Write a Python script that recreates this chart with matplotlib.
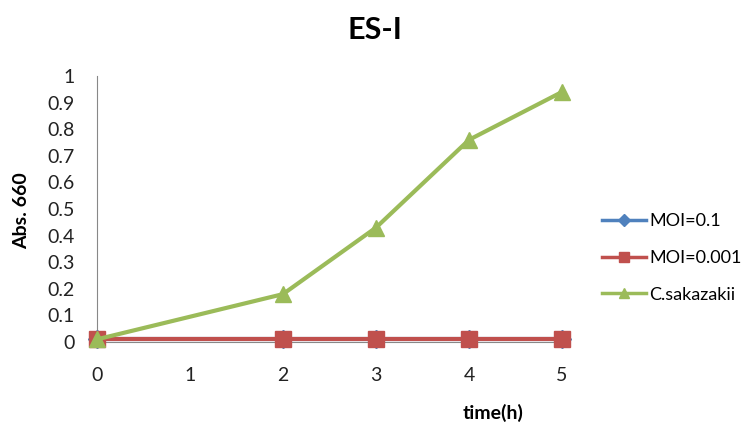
import matplotlib
matplotlib.use("Agg")
import matplotlib.pyplot as plt
import numpy as np

# growth curve data (hours 0..5, no reading at hour 1)
time_labels = ["0", "1", "2", "3", "4", "5"]
time_points = [0, 2, 3, 4, 5]
moi_01 = [0.01, 0.01, 0.01, 0.01, 0.01]
moi_0001 = [0.01, 0.01, 0.01, 0.01, 0.01]
c_sakazakii = [0.01, 0.18, 0.43, 0.76, 0.94]
y_ticks = [0, 0.1, 0.2, 0.3, 0.4, 0.5, 0.6, 0.7, 0.8, 0.9, 1]

plt.rcParams["font.family"] = ["Lato", "DejaVu Sans"]

fig = plt.figure(figsize=(7.53, 4.32), dpi=100)
ax = fig.add_axes([97 / 753, 90 / 432, 465 / 753, 266 / 432])

ax.plot(time_points, moi_01, color="#4F81BD", lw=3, marker="D",
        ms=9, label="MOI=0.1", clip_on=False, zorder=3)
ax.plot(time_points, moi_0001, color="#C0504D", lw=3, marker="s",
        ms=11, label="MOI=0.001", clip_on=False, zorder=4)
ax.plot(time_points, c_sakazakii, color="#9BBB59", lw=3, marker="^",
        ms=11, label="C.sakazakii", clip_on=False, zorder=5)

ax.set_xlim(0, 5)
ax.set_ylim(0, 1)
ax.set_xticks(range(len(time_labels)))
ax.set_xticklabels(time_labels)
ax.set_yticks(y_ticks)
ax.set_yticklabels([f"{v:g}" for v in y_ticks])
ax.tick_params(length=0, labelsize=14, colors="#222222")
ax.tick_params(axis="x", pad=18)
ax.tick_params(axis="y", pad=16)

for side in ["top", "right"]:
    ax.spines[side].set_visible(False)
ax.spines["left"].set_color("#888888")
ax.spines["bottom"].set_color("#888888")

fig.text(375 / 753, 1 - 30 / 432, "ES-I", fontsize=22, fontweight="bold",
         ha="center", va="center")
fig.text(22 / 753, 1 - 211 / 432, "Abs. 660", fontsize=14, fontweight="bold",
         rotation=90, ha="center", va="center")
fig.text(493 / 753, 1 - 413 / 432, "time(h)", fontsize=14, fontweight="bold",
         ha="center", va="center")

leg = fig.legend(loc="center left", bbox_to_anchor=(602 / 753, 1 - 258 / 432),
                 frameon=False, fontsize=13, handlelength=2.45,
                 handletextpad=0.17, labelspacing=1.15, markerscale=0.7,
                 borderpad=0, borderaxespad=0)
for line in leg.get_lines():
    line.set_linewidth(2.5)

fig.savefig("out.png", dpi=100)
